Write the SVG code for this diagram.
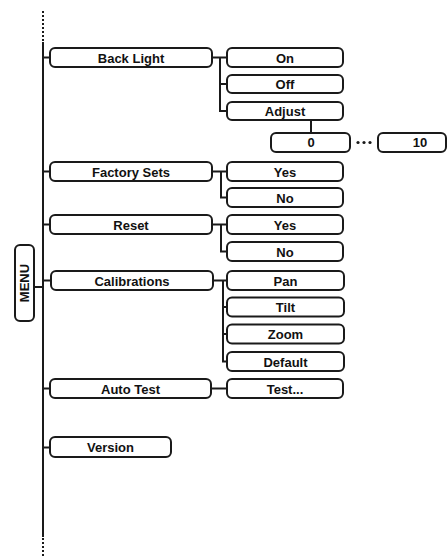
<svg xmlns="http://www.w3.org/2000/svg" width="448" height="560" viewBox="0 0 448 560">
<style>
.b{fill:#fff;stroke:#1a1a1a;stroke-width:2}
.t{font-family:"Liberation Sans",Arial,sans-serif;font-weight:bold;font-size:13px;fill:#111;text-anchor:middle}
.c{stroke:#1a1a1a;stroke-width:2;fill:none}
.d{stroke:#1a1a1a;stroke-width:2;stroke-dasharray:2 2;fill:none}
</style>
<rect width="448" height="560" fill="#fff"/>
<g id="connectors">
<line class="d" x1="43" y1="11" x2="43" y2="42"/>
<line class="c" x1="43" y1="42" x2="43" y2="537"/>
<line class="d" x1="43" y1="538" x2="43" y2="558"/>
<line class="c" x1="34" y1="287" x2="43" y2="287"/>
<path class="c" d="M43 57.5H50M43 171.5H50M43 224.5H50M43 280.5H50M43 388.5H50M43 447.5H50"/>
<path class="c" d="M212 57.5H227M220 57.5V111H227M220 84H227"/>
<path class="c" d="M311 120V133"/>
<path class="c" d="M212 171.5H227M221 171.5V197.5H227"/>
<path class="c" d="M212 224.5H227M221 224.5V251.5H227"/>
<path class="c" d="M213 280.5H227M223 280.5V361.5H227M223 307H227M223 334H227"/>
<path class="c" d="M212 388.5H227"/>
<circle cx="358" cy="142.5" r="1.6" fill="#1a1a1a"/>
<circle cx="364" cy="142.5" r="1.6" fill="#1a1a1a"/>
<circle cx="370" cy="142.5" r="1.6" fill="#1a1a1a"/>
</g>
<g id="menu"><rect class="b" x="15" y="245" width="19" height="76" rx="5"/><text class="t" transform="translate(29,283) rotate(-90)" font-size="13.5">MENU</text></g>
<g id="backlight"><rect class="b" x="50" y="48" width="162" height="19" rx="5"/><text class="t" x="131" y="62.5">Back Light</text></g>
<g id="bl-on"><rect class="b" x="227" y="48" width="116" height="19" rx="5"/><text class="t" x="285" y="62.5">On</text></g>
<g id="bl-off"><rect class="b" x="227" y="75" width="116" height="18" rx="5"/><text class="t" x="285" y="89">Off</text></g>
<g id="bl-adjust"><rect class="b" x="227" y="102" width="116" height="18" rx="5"/><text class="t" x="285" y="116">Adjust</text></g>
<g id="adj-0"><rect class="b" x="271" y="133" width="79" height="19" rx="5"/><text class="t" x="311" y="147">0</text></g>
<g id="adj-10"><rect class="b" x="378" y="133" width="68" height="19" rx="5"/><text class="t" x="420" y="147">10</text></g>
<g id="factory"><rect class="b" x="50" y="162" width="162" height="19" rx="5"/><text class="t" x="131" y="176.5">Factory Sets</text></g>
<g id="fs-yes"><rect class="b" x="227" y="162" width="116" height="19" rx="5"/><text class="t" x="285" y="176.5">Yes</text></g>
<g id="fs-no"><rect class="b" x="227" y="188" width="116" height="19" rx="5"/><text class="t" x="285" y="202.5">No</text></g>
<g id="reset"><rect class="b" x="50" y="215" width="162" height="19" rx="5"/><text class="t" x="131" y="229.5">Reset</text></g>
<g id="rs-yes"><rect class="b" x="227" y="215" width="116" height="19" rx="5"/><text class="t" x="285" y="229.5">Yes</text></g>
<g id="rs-no"><rect class="b" x="227" y="242" width="116" height="19" rx="5"/><text class="t" x="285" y="256.5">No</text></g>
<g id="calib"><rect class="b" x="51" y="271" width="162" height="19" rx="5"/><text class="t" x="132" y="285.5">Calibrations</text></g>
<g id="cal-pan"><rect class="b" x="227" y="271" width="117" height="19" rx="5"/><text class="t" x="285.5" y="285.5">Pan</text></g>
<g id="cal-tilt"><rect class="b" x="227" y="297.5" width="117" height="19" rx="5"/><text class="t" x="285.5" y="312">Tilt</text></g>
<g id="cal-zoom"><rect class="b" x="227" y="324.5" width="117" height="19" rx="5"/><text class="t" x="285.5" y="339">Zoom</text></g>
<g id="cal-default"><rect class="b" x="227" y="352" width="117" height="19" rx="5"/><text class="t" x="285.5" y="366.5">Default</text></g>
<g id="autotest"><rect class="b" x="50" y="379" width="161" height="19" rx="5"/><text class="t" x="130.5" y="393.5">Auto Test</text></g>
<g id="at-test"><rect class="b" x="227" y="379" width="116" height="19" rx="5"/><text class="t" x="285" y="393.5">Test...</text></g>
<g id="version"><rect class="b" x="50" y="437" width="121" height="20" rx="5"/><text class="t" x="110.5" y="452">Version</text></g>
</svg>
